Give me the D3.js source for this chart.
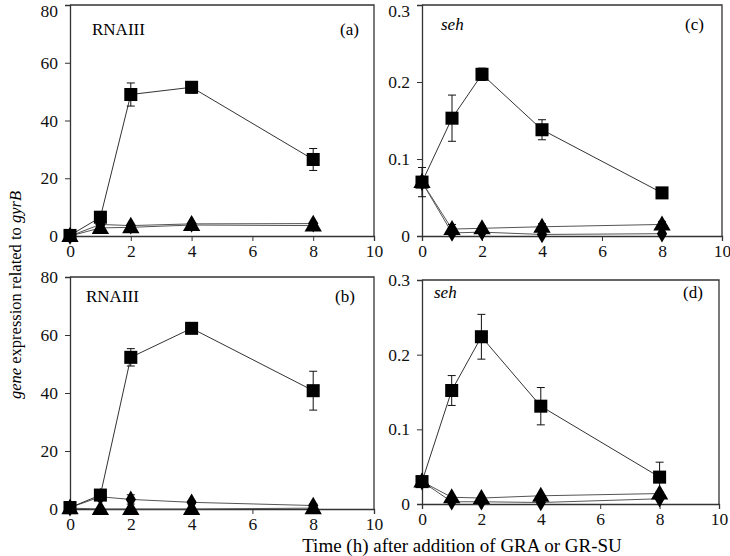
<!DOCTYPE html>
<html><head><meta charset="utf-8">
<script src="https://cdn.jsdelivr.net/npm/d3@7"></script>
<style>body{margin:0;background:#fff}svg{display:block}
svg text{font-family:"Liberation Serif","Times New Roman",Times,"DejaVu Serif",serif !important}</style>
</head><body><svg id="c" width="730" height="556"></svg>
<script>
const times = [0, 1, 2, 4, 8];
const xTicks = [0, 2, 4, 6, 8, 10];
const rnaTicks = [0, 20, 40, 60, 80];
const sehTicks = [0, 0.1, 0.2, 0.3];

const aSquare = [0.2, 6.5, 49, 51.5, 26.5];
const aSquareErr = [0, 1, 4, 2, 3.8];
const aTri = [0, 2.8, 3.0, 3.8, 3.6];
const aDia = [0, 4.0, 3.6, 4.2, 4.3];

const cSquare = [0.070, 0.153, 0.210, 0.138, 0.056];
const cSquareErr = [0.019, 0.030, 0.008, 0.013, 0.003];
const cTri = [0.070, 0.009, 0.010, 0.012, 0.015];
const cTriErr = [0, 0.006, 0.003, 0.004, 0.004];
const cDia = [0.070, 0.004, 0.005, 0.002, 0.003];

const bSquare = [0.5, 4.8, 52.3, 62.3, 40.8];
const bSquareErr = [0.3, 0.5, 3, 0.8, 6.7];
const bDia = [0.5, 4.2, 3.3, 2.3, 1.2];
const bDiaErr = [0, 0.5, 1.6, 0.5, 0.5];
const bTri = [0.3, 0, 0, 0, 0.3];

const dSquare = [0.030, 0.152, 0.224, 0.131, 0.036];
const dSquareErr = [0.003, 0.020, 0.030, 0.025, 0.020];
const dTri = [0.030, 0.009, 0.008, 0.011, 0.014];
const dDia = [0.030, 0.003, 0.003, 0.002, 0.007];

const panels = [
  {box:[70,374,5,236], ymax:80, yt:rnaTicks, fmt:d=>d, gene:"RNAIII", italic:false, tag:"(a)", gx:92, gy:35, tx:340, ty:35,
   series:[{v:aTri,shape:"tri"},{v:aDia,shape:"dia"},{v:aSquare,e:aSquareErr,shape:"sq"}]},
  {box:[422,722,5,236], ymax:0.3, yt:sehTicks, fmt:d=>d===0?"0":d3.format(".1f")(d), gene:"seh", italic:true, tag:"(c)", gx:441, gy:30, tx:685, ty:30,
   series:[{v:cDia,shape:"dia"},{v:cTri,e:cTriErr,shape:"tri"},{v:cSquare,e:cSquareErr,shape:"sq"}]},
  {box:[70,374,277,509], ymax:80, yt:rnaTicks, fmt:d=>d, gene:"RNAIII", italic:false, tag:"(b)", gx:86, gy:302, tx:335, ty:302,
   series:[{v:bTri,shape:"tri"},{v:bDia,e:bDiaErr,shape:"dia"},{v:bSquare,e:bSquareErr,shape:"sq"}]},
  {box:[422,719,280,504], ymax:0.3, yt:sehTicks, fmt:d=>d===0?"0":d3.format(".1f")(d), gene:"seh", italic:true, tag:"(d)", gx:434, gy:298, tx:683, ty:298,
   series:[{v:dDia,shape:"dia"},{v:dTri,shape:"tri"},{v:dSquare,e:dSquareErr,shape:"sq"}]}
];

const svg = d3.select("#c");
const sym = {sq:d3.symbol(d3.symbolSquare,170), tri:d3.symbol(d3.symbolTriangle,130), dia:d3.symbol(d3.symbolDiamond,90)};
const serif = "Liberation Serif, Times New Roman, serif";

panels.forEach(p=>{
  const [l,r,t,b] = p.box;
  const x = d3.scaleLinear().domain([0,10]).range([l,r]);
  const y = d3.scaleLinear().domain([0,p.ymax]).range([b,t]);
  const g = svg.append("g");
  g.append("path").attr("d",`M${l},${t}H${r}V${b}`).attr("fill","none").attr("stroke","#333").attr("stroke-width",1.3);
  const xa = g.append("g").attr("transform",`translate(0,${b})`)
    .call(d3.axisBottom(x).tickValues(xTicks).tickSize(5).tickPadding(4).tickFormat(d=>d));
  const ya = g.append("g").attr("transform",`translate(${l},0)`)
    .call(d3.axisLeft(y).tickValues(p.yt).tickSize(5).tickPadding(7).tickFormat(p.fmt));
  [xa,ya].forEach(a=>{
    a.attr("font-family",serif);
    a.select(".domain").attr("stroke","#333").attr("stroke-width",1.3);
    a.selectAll(".tick line").attr("stroke","#333");
    a.selectAll("text").attr("font-size",17.5).attr("fill","#111");
  });
  ya.selectAll(".tick text").filter(d=>d===p.ymax && t<10).attr("dy","0.66em");
  const line = d3.line().x((d,i)=>x(times[i])).y(d=>y(d));
  p.series.forEach(s=>{
    g.append("path").attr("d",line(s.v)).attr("fill","none")
      .attr("stroke", s.shape==="sq"?"#333":"#555").attr("stroke-width",1);
  });
  p.series.forEach(s=>{
    if(!s.e) return;
    s.v.forEach((v,i)=>{
      const e = s.e[i]; if(!e) return;
      const cx = x(times[i]), y1 = y(v+e), y2 = y(Math.max(0,v-e));
      g.append("path").attr("d",`M${cx},${y1}V${y2}M${cx-4},${y1}H${cx+4}M${cx-4},${y2}H${cx+4}`)
        .attr("stroke","#111").attr("stroke-width",1).attr("fill","none");
    });
  });
  p.series.forEach(s=>{
    g.selectAll(null).data(s.v).enter().append("path")
      .attr("d",sym[s.shape])
      .attr("transform",(d,i)=>`translate(${x(times[i])},${y(d)+(s.shape==="tri"?1:0)})`)
      .attr("fill","#000");
  });
  g.append("text").attr("x",p.gx).attr("y",p.gy).attr("font-size",17).attr("font-family",serif)
    .attr("font-style",p.italic?"italic":"normal").text(p.gene);
  g.append("text").attr("x",p.tx).attr("y",p.ty).attr("font-size",17).attr("font-family",serif).text(p.tag);
});

const yt = svg.append("text").attr("transform","translate(21,295) rotate(-90)")
  .attr("text-anchor","middle").attr("font-size",16.5).attr("font-family",serif);
yt.append("tspan").attr("font-style","italic").text("gene");
yt.append("tspan").text(" expression related to ");
yt.append("tspan").attr("font-style","italic").text("gyrB");
svg.append("text").attr("x",462).attr("y",552).attr("text-anchor","middle").attr("font-size",19).attr("font-family",serif)
  .text("Time (h) after addition of GRA or GR-SU");
</script></body></html>
